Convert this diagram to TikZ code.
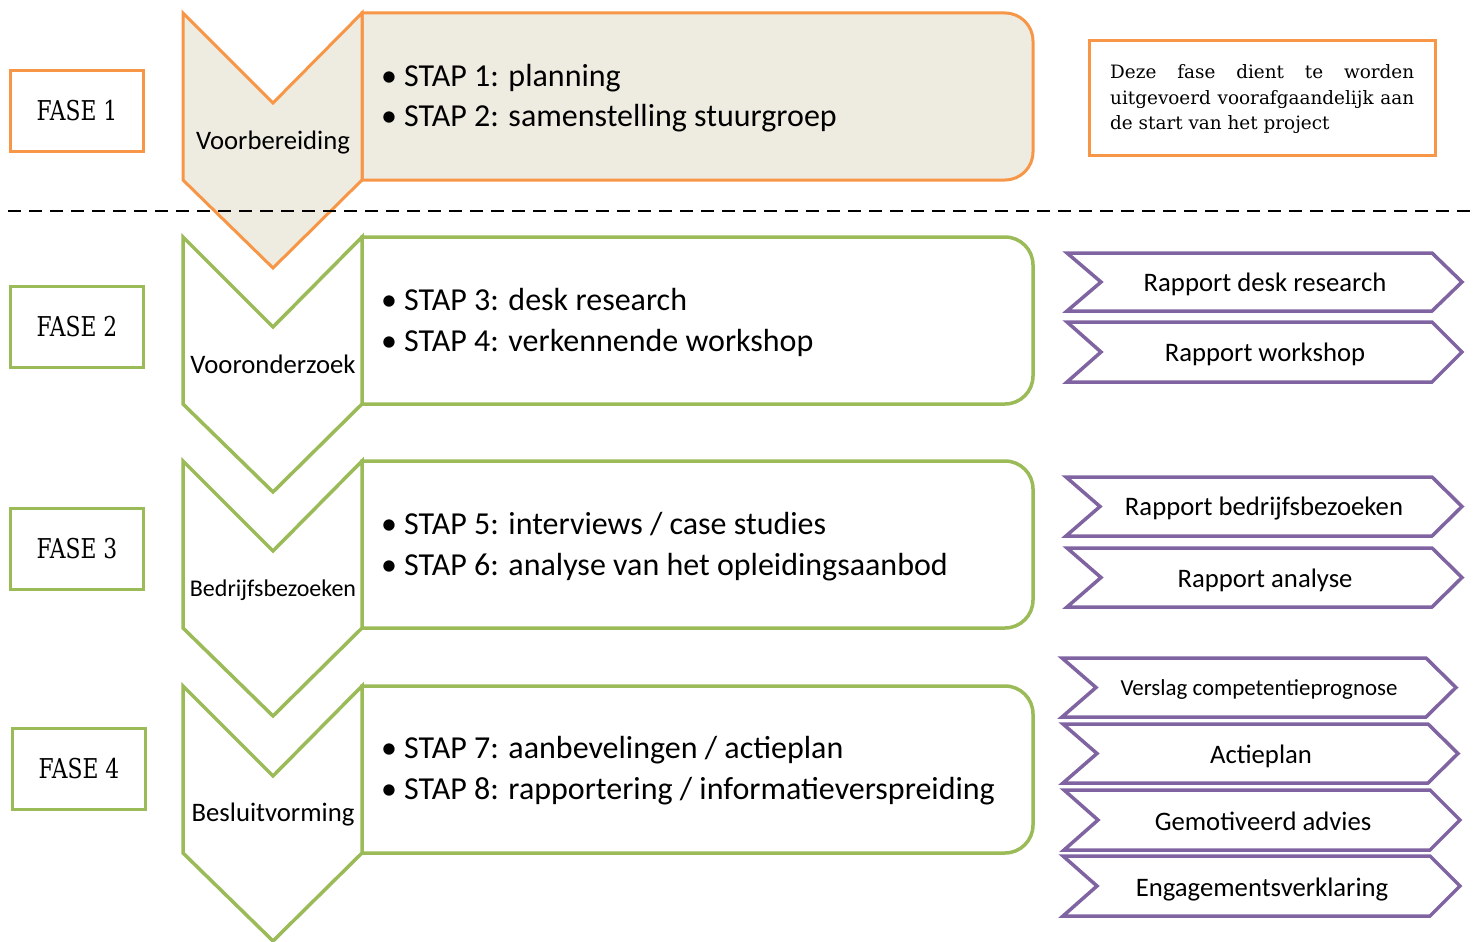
\documentclass[tikz,border=0pt]{standalone}
\usepackage{fontspec}
\setmainfont{Carlito}
\newfontfamily\slab{DejaVu Serif}
\newfontfamily\slabc[FakeStretch=0.8]{DejaVu Serif}
\definecolor{ofase}{HTML}{F79646}
\definecolor{gfase}{HTML}{9BBB59}
\definecolor{pfase}{HTML}{8064A2}
\definecolor{beige}{HTML}{EEECE1}
\tikzset{
  fasebox/.style={draw, line width=3pt, minimum width=133pt, minimum height=81pt, inner sep=0pt, font=\slabc\fontsize{27.3}{31}\selectfont},
  stapline/.style={anchor=base west, inner sep=0pt, font=\fontsize{32}{36}\selectfont},
  chevlabel/.style={anchor=base, inner sep=0pt, font=\fontsize{26.7}{30}\selectfont},
  prod/.style={draw=pfase, line width=3.5pt, fill=white},
  prodlabel/.style={anchor=base, inner sep=0pt, font=\fontsize{26.7}{30}\selectfont},
}
% chevron: #1 top y, #2 side y, #3 style
\newcommand\chevshape[3]{%
  \draw[#3] (183,#1) -- (273,#1+90) -- (362,#1) -- (362,#2) -- (273,#2+88) -- (183,#2) -- cycle;}
% rounded step box: #1 top, #2 bottom, #3 style
\newcommand\stepshape[3]{%
  \draw[#3] (362,#1) -- (1005,#1) arc[start angle=-90,end angle=0,radius=28] -- (1033,#2-28) arc[start angle=0,end angle=90,radius=28] -- (362,#2) -- cycle;}
% product arrow: #1 left, #2 tip, #3 top, #4 bottom
\newcommand\prodshape[4]{%
  \draw[prod] (#1,#3) -- (#2-30,#3) -- (#2,{(#3+#4)/2}) -- (#2-30,#4) -- (#1,#4) -- (#1+34,{(#3+#4)/2}) -- cycle;}
\newcommand\bul{\makebox[23pt][l]{\textbullet}}
\begin{document}
\begin{tikzpicture}[x=1pt,y=-1pt]
\useasboundingbox (0,0) rectangle (1481,942);
% stage shapes
\stepshape{13}{180}{draw=ofase, line width=3pt, fill=beige}
\chevshape{13}{180}{draw=ofase, line width=3pt, fill=beige, line join=miter}
\stepshape{237}{404}{draw=gfase, line width=3.5pt, fill=white}
\chevshape{237}{404}{draw=gfase, line width=3.5pt, fill=white}
\stepshape{461}{628}{draw=gfase, line width=3.5pt, fill=white}
\chevshape{461}{628}{draw=gfase, line width=3.5pt, fill=white}
\stepshape{686}{853}{draw=gfase, line width=3.5pt, fill=white}
\chevshape{686}{853}{draw=gfase, line width=3.5pt, fill=white}
% dashed separator
\coordinate (dl) at (8,211);
\coordinate (dr) at (1476,211);
\draw[line width=2pt, dash pattern=on 13pt off 8pt] (dl) -- (dr);
% fase boxes
\node[fasebox, draw=ofase] (f1) at (77,111) {FASE 1};
\node[fasebox, draw=gfase] (f2) at (77,327) {FASE 2};
\node[fasebox, draw=gfase] (f3) at (77,549) {FASE 3};
\node[fasebox, draw=gfase] (f4) at (79,769) {FASE 4};
% chevron labels
\node[chevlabel] (c1) at (273,149) {Voorbereiding};
\node[chevlabel] (c2) at (273,373) {Vooronderzoek};
\node[chevlabel, font=\fontsize{24}{28}\selectfont] (c3) at (273,596) {Bedrijfsbezoeken};
\node[chevlabel] (c4) at (273,821) {Besluitvorming};
% step lines
\node[stapline] (s1) at (381,86) {\bul STAP 1: planning};
\node[stapline] (s2) at (381,126) {\bul STAP 2: samenstelling stuurgroep};
\node[stapline] (s3) at (381,310) {\bul STAP 3: desk research};
\node[stapline] (s4) at (381,351) {\bul STAP 4: verkennende workshop};
\node[stapline] (s5) at (381,534) {\bul STAP 5: interviews / case studies};
\node[stapline] (s6) at (381,575) {\bul STAP 6: analyse van het opleidingsaanbod};
\node[stapline] (s7) at (381,758) {\bul STAP 7: aanbevelingen / actieplan};
\node[stapline] (s8) at (381,799) {\bul STAP 8: rapportering / informatieverspreiding};
% description
\draw[draw=ofase, line width=3pt] (1089,41) rectangle (1435,155);
\node[anchor=base west, inner sep=0pt] (desc) at (1110,79) {\parbox[t]{304pt}{\slab\fontsize{18.4}{25.5}\selectfont
  \makebox[304pt][s]{Deze fase dient te worden}\\
  \makebox[304pt][s]{uitgevoerd voorafgaandelijk aan}\\
  de start van het project}};
% products
\prodshape{1067}{1462}{253}{311}
\node[prodlabel] (p1) at (1265,291) {Rapport desk research};
\prodshape{1067}{1462}{322}{382}
\node[prodlabel] (p2) at (1265,361) {Rapport workshop};
\prodshape{1066}{1462}{477}{536}
\node[prodlabel] (p3) at (1264,515) {Rapport bedrijfsbezoeken};
\prodshape{1067}{1462}{548}{607}
\node[prodlabel] (p4) at (1265,587) {Rapport analyse};
\prodshape{1062}{1456}{658}{717}
\node[prodlabel, font=\fontsize{22.9}{27}\selectfont] (p5) at (1259,695) {Verslag competentieprognose};
\prodshape{1063}{1458}{724}{783}
\node[prodlabel] (p6) at (1261,763) {Actieplan};
\prodshape{1064}{1460}{790}{850}
\node[prodlabel] (p7) at (1263,830) {Gemotiveerd advies};
\prodshape{1063}{1460}{856}{916}
\node[prodlabel] (p8) at (1262,896) {Engagementsverklaring};
\end{tikzpicture}
\end{document}
